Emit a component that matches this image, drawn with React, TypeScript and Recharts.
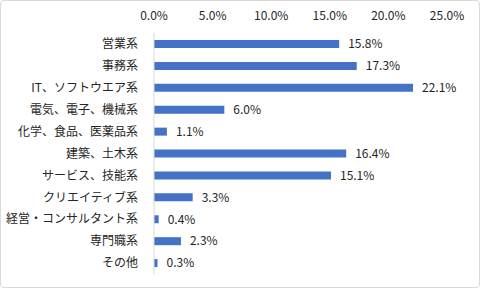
import { BarChart, Bar, XAxis, YAxis, LabelList } from 'recharts'

const categories = [
    '営業系',
    '事務系',
    'IT、ソフトウエア系',
    '電気、電子、機械系',
    '化学、食品、医薬品系',
    '建築、土木系',
    'サービス、技能系',
    'クリエイティブ系',
    '経営・コンサルタント系',
    '専門職系',
    'その他',
]
const shares = [15.8, 17.3, 22.1, 6.0, 1.1, 16.4, 15.1, 3.3, 0.4, 2.3, 0.3]
const xTicks = [0, 5, 10, 15, 20, 25]

const data = categories.map((name, i) => ({ name, value: shares[i] }))

const font = '"Noto Sans CJK JP", "Noto Sans", sans-serif'
const textColor = '#262626'

export default function App() {
    return (
        <div
            style={{
                position: 'absolute',
                left: 0,
                top: 0,
                width: 480,
                height: 288,
                boxSizing: 'border-box',
                border: '1px solid #d9d9d9',
                borderRadius: 4,
                background: '#fff',
                fontFamily: font,
            }}
        >
            <BarChart
                width={478}
                height={286}
                data={data}
                layout="vertical"
                margin={{ top: 7, right: 32, left: 0, bottom: 13 }}
            >
                <XAxis
                    type="number"
                    orientation="top"
                    domain={[0, 25]}
                    ticks={xTicks}
                    height={25}
                    axisLine={false}
                    tickLine={false}
                    tickMargin={7}
                    tick={{ fontSize: 12, fill: textColor, fontFamily: font }}
                    tickFormatter={(v) => `${v.toFixed(1)}%`}
                />
                <YAxis
                    type="category"
                    dataKey="name"
                    width={153}
                    axisLine={{ stroke: '#d9d9d9' }}
                    tickLine={false}
                    tickSize={0}
                    tickMargin={16}
                    interval={0}
                    tick={{ fontSize: 12, fill: textColor, fontFamily: font }}
                />
                <Bar dataKey="value" fill="#4472C4" barSize={8} isAnimationActive={false}>
                    <LabelList
                        dataKey="value"
                        position="right"
                        offset={9}
                        formatter={(v: any) => `${Number(v).toFixed(1)}%`}
                        style={{ fontSize: 12, fill: textColor, fontFamily: font }}
                    />
                </Bar>
            </BarChart>
        </div>
    )
}
